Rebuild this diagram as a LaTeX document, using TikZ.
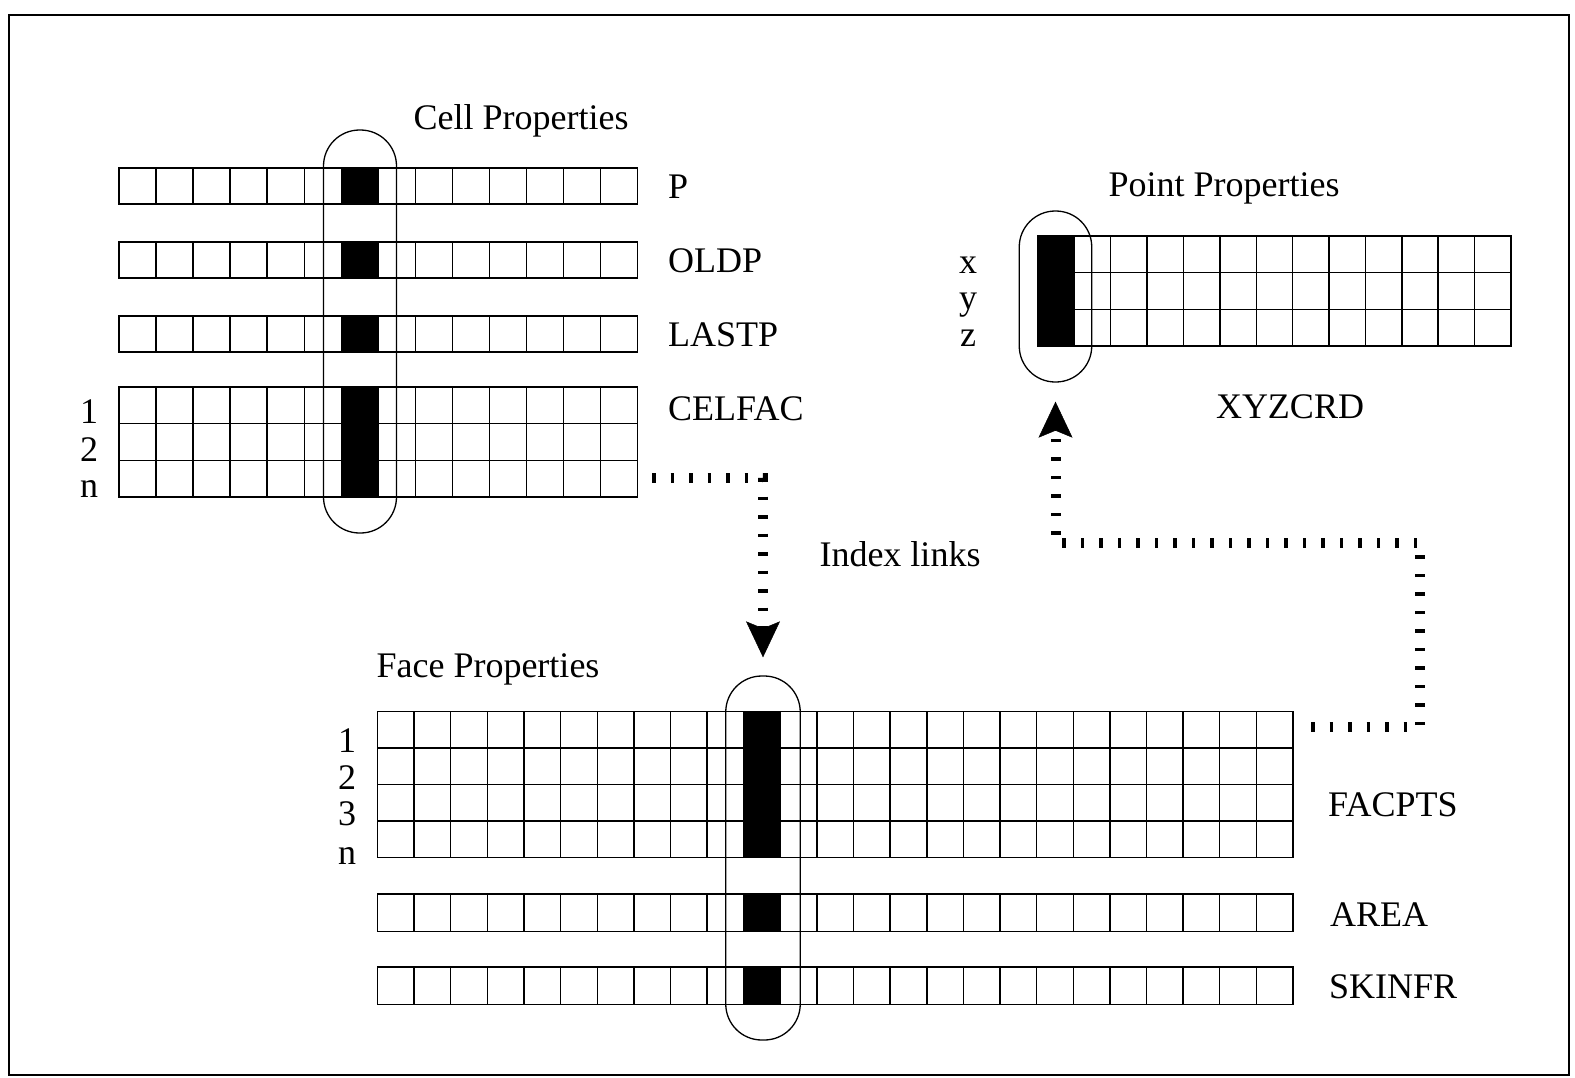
\documentclass[tikz,border=0pt]{standalone}
\usepackage{fontspec}
\setmainfont{Liberation Serif}
\usetikzlibrary{arrows.meta}
\tikzset{cellgrid/.style={draw=black,line width=1.4pt,step=1},
 oval/.style={draw=black,line width=1.3pt,rounded corners=36pt,inner sep=0pt},
 link/.style={draw=black,line width=10pt,dash pattern=on 3.5pt off 15pt,
  -{Stealth[length=36pt,width=34pt,inset=7pt,line width=0.5pt]}},
 lbl/.style={inner sep=0pt,font=\fontsize{36}{40}\selectfont},
 every picture/.style={line join=miter}}
\begin{document}
\begin{tikzpicture}[x=1pt,y=-1pt]
\useasboundingbox (0,0) rectangle (1575,1077);
\draw[line width=2pt] (9,15) rectangle (1569,1075);
% cell properties
\begin{scope}[shift={(119,204)},x=37.04pt,y=36pt]
\fill (6,0) rectangle (7,1);
\draw[cellgrid] (0,0) grid (14,1) rectangle (0,0);
\end{scope}
\begin{scope}[shift={(119,278)},x=37.04pt,y=36pt]
\fill (6,0) rectangle (7,1);
\draw[cellgrid] (0,0) grid (14,1) rectangle (0,0);
\end{scope}
\begin{scope}[shift={(119,352)},x=37.04pt,y=36pt]
\fill (6,0) rectangle (7,1);
\draw[cellgrid] (0,0) grid (14,1) rectangle (0,0);
\end{scope}
\begin{scope}[shift={(119,497)},x=37.04pt,y=36.67pt]
\fill (6,0) rectangle (7,3);
\draw[cellgrid] (0,0) grid (14,3) rectangle (0,0);
\end{scope}
\node[oval,minimum width=73pt,minimum height=403pt] (celloval) at (360,331.5) {};
\node[lbl,anchor=base] (celltitle) at (521,129) {Cell Properties};
\node[lbl,anchor=base west] (plbl) at (668,198) {P};
\node[lbl,anchor=base west] (oldplbl) at (668,272) {OLDP};
\node[lbl,anchor=base west] (lastplbl) at (668,346) {LASTP};
\node[lbl,anchor=base west] (celfaclbl) at (668,420) {CELFAC};
\node[lbl,anchor=base] (cellone) at (89,423) {1};
\node[lbl,anchor=base] (celltwo) at (89,461) {2};
\node[lbl,anchor=base] (cellnn) at (89,497) {n};
% point properties
\begin{scope}[shift={(1038,346)},x=36.38pt,y=36.67pt]
\fill (0,0) rectangle (1,3);
\draw[cellgrid] (0,0) grid (13,3) rectangle (0,0);
\end{scope}
\node[oval,minimum width=72.5pt,minimum height=171pt] (pointoval) at (1055.5,296.5) {};
\node[lbl,anchor=base] (pointtitle) at (1224,196) {Point Properties};
\node[lbl,anchor=base] (xlbl) at (968,273) {x};
\node[lbl,anchor=base] (ylbl) at (968,309) {y};
\node[lbl,anchor=base] (zlbl) at (968,346) {z};
\node[lbl,anchor=base] (xyzlbl) at (1290,418) {XYZCRD};
% face properties
\begin{scope}[shift={(377.5,857.5)},x=36.62pt,y=36.5pt]
\fill (10,0) rectangle (11,4);
\draw[cellgrid] (0,0) grid (25,4) rectangle (0,0);
\end{scope}
\begin{scope}[shift={(377.5,931.5)},x=36.62pt,y=37.5pt]
\fill (10,0) rectangle (11,1);
\draw[cellgrid] (0,0) grid (25,1) rectangle (0,0);
\end{scope}
\begin{scope}[shift={(377.5,1004.5)},x=36.62pt,y=37.5pt]
\fill (10,0) rectangle (11,1);
\draw[cellgrid] (0,0) grid (25,1) rectangle (0,0);
\end{scope}
\node[oval,minimum width=74.5pt,minimum height=364pt] (faceoval) at (763,858) {};
\node[lbl,anchor=base] (facetitle) at (488,677) {Face Properties};
\node[lbl,anchor=base] (faceone) at (347,752) {1};
\node[lbl,anchor=base] (facetwo) at (347,789) {2};
\node[lbl,anchor=base] (facethree) at (347,825) {3};
\node[lbl,anchor=base] (facenn) at (347,864) {n};
\node[lbl,anchor=base west] (facptslbl) at (1328,816) {FACPTS};
\node[lbl,anchor=base west] (arealbl) at (1330,926) {AREA};
\node[lbl,anchor=base west] (skinfrlbl) at (1329,998) {SKINFR};
% index links
\node[lbl,anchor=base] (linklbl) at (900,566) {Index links};
\coordinate (celfacout) at (652,478);
\coordinate (facptsout) at (1311,727);
\coordinate (pointturn) at (1420,543);
\draw[link] (celfacout) -| ([yshift=18pt]faceoval.north);
\draw[link] (facptsout) -| (pointturn) -| ([yshift=-19pt]pointoval.south);
\end{tikzpicture}
\end{document}
